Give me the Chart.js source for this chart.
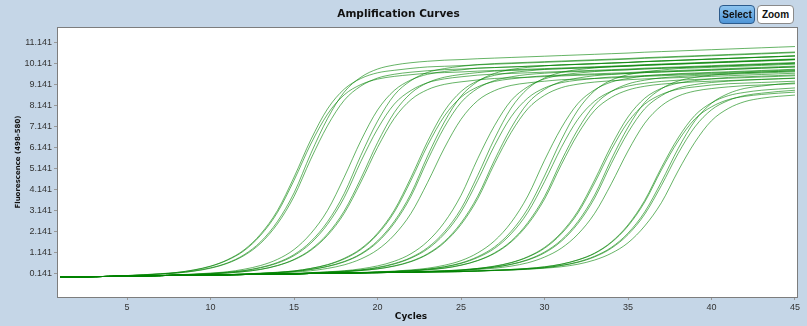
<!DOCTYPE html>
<html>
<head>
<meta charset="utf-8">
<script src="https://cdn.jsdelivr.net/npm/chart.js@4.4.1/dist/chart.umd.min.js"></script>
<style>
  html, body { margin: 0; padding: 0; background: #c5d6e7; }
  #wrap { position: relative; width: 807px; height: 326px; overflow: hidden; }
  #chart { position: absolute; left: 0; top: 0; }
  .btn {
    position: absolute; top: 5px; height: 19px;
    font: bold 10px "Liberation Sans", Arial, sans-serif; line-height: 17px; color: #111;
    text-align: center; border-radius: 4px; box-sizing: border-box;
  }
  #btnSelect { left: 719px; width: 36px; background: linear-gradient(#8cc4f0, #4f95d6); border: 1px solid #2c5b8c; }
  #btnZoom { left: 757px; width: 37px; background: #fff; border: 1px solid #8a8a8a; }
</style>
</head>
<body>
<div id="wrap">
  <canvas id="chart" width="807" height="326"></canvas>
  <div class="btn" id="btnSelect">Select</div>
  <div class="btn" id="btnZoom">Zoom</div>
</div>
<script>
// cycle numbers on the x axis
const cycles = [1,2,3,4,5,6,7,8,9,10,11,12,13,14,15,16,17,18,19,20,21,22,23,24,25,26,27,28,29,30,31,32,33,34,35,36,37,38,39,40,41,42,43,44,45];

const xTicks = [5, 10, 15, 20, 25, 30, 35, 40, 45];
const yTicks = [0.141, 1.141, 2.141, 3.141, 4.141, 5.141, 6.141, 7.141, 8.141, 9.141, 10.141, 11.141];
const yTickLabels = ["0.141", "1.141", "2.141", "3.141", "4.141", "5.141", "6.141", "7.141", "8.141", "9.141", "10.141", "11.141"];

// fluorescence per well, one value per cycle
const s1a = [-0.02,-0.01,0,0.01,0.05,0.09,0.14,0.20,0.32,0.50,0.80,1.27,2.03,3.14,4.74,6.51,7.98,8.92,9.43,9.70,9.82,9.91,9.98,10.01,10.04,10.08,10.11,10.14,10.17,10.20,10.23,10.26,10.29,10.32,10.35,10.39,10.42,10.45,10.48,10.51,10.54,10.57,10.60,10.63,10.66];
const s1b = [-0.02,-0.01,0,0.01,0.05,0.09,0.13,0.20,0.31,0.49,0.78,1.23,1.97,3.05,4.59,6.31,7.73,8.65,9.14,9.40,9.53,9.61,9.68,9.71,9.74,9.78,9.81,9.84,9.87,9.90,9.93,9.96,9.99,10.02,10.05,10.09,10.12,10.15,10.18,10.21,10.24,10.27,10.30,10.33,10.36];
const s1c = [-0.02,-0.01,0,0.01,0.04,0.08,0.12,0.18,0.27,0.42,0.65,1.04,1.66,2.62,3.99,5.85,7.52,8.78,9.49,9.88,10.07,10.18,10.25,10.30,10.33,10.37,10.40,10.43,10.46,10.49,10.52,10.55,10.58,10.61,10.64,10.68,10.71,10.74,10.77,10.80,10.83,10.86,10.89,10.92,10.95];
const s1d = [-0.02,-0.01,0,0.01,0.04,0.08,0.12,0.17,0.26,0.40,0.63,1.00,1.59,2.51,3.82,5.59,7.18,8.39,9.07,9.45,9.63,9.73,9.80,9.85,9.88,9.92,9.95,9.98,10.01,10.04,10.07,10.10,10.13,10.16,10.19,10.23,10.26,10.29,10.32,10.35,10.38,10.41,10.44,10.47,10.50];

const s2a = [-0.02,-0.01,0,0.01,0.02,0.04,0.05,0.09,0.12,0.17,0.23,0.35,0.53,0.82,1.29,2.05,3.15,4.73,6.47,7.93,8.86,9.36,9.63,9.76,9.84,9.92,9.95,9.98,10.01,10.04,10.07,10.10,10.13,10.16,10.19,10.23,10.26,10.29,10.32,10.35,10.38,10.41,10.44,10.47,10.50];
const s2b = [-0.02,-0.01,0,0.01,0.02,0.04,0.05,0.08,0.11,0.14,0.20,0.28,0.42,0.64,1.00,1.59,2.49,3.76,5.48,7.03,8.21,8.86,9.23,9.41,9.51,9.59,9.64,9.67,9.70,9.73,9.76,9.79,9.82,9.85,9.88,9.92,9.95,9.98,10.01,10.04,10.07,10.10,10.13,10.16,10.19];
const s2c = [-0.02,-0.01,0,0.01,0.02,0.04,0.05,0.08,0.11,0.15,0.21,0.29,0.44,0.67,1.05,1.67,2.61,3.95,5.77,7.40,8.64,9.33,9.72,9.90,10.01,10.09,10.14,10.17,10.20,10.23,10.26,10.29,10.32,10.35,10.38,10.42,10.45,10.48,10.51,10.54,10.57,10.60,10.63,10.66,10.69];
const s2d = [-0.02,-0.01,0,0.01,0.02,0.04,0.05,0.06,0.10,0.13,0.17,0.24,0.35,0.53,0.82,1.29,2.03,3.12,4.67,6.38,7.81,8.73,9.23,9.49,9.62,9.71,9.78,9.81,9.84,9.87,9.90,9.93,9.96,9.99,10.02,10.06,10.09,10.12,10.15,10.18,10.21,10.24,10.27,10.30,10.33];
const s2e = [-0.02,-0.01,0,0.01,0.02,0.04,0.05,0.06,0.10,0.13,0.17,0.24,0.34,0.52,0.80,1.25,1.96,3.01,4.50,6.15,7.53,8.42,8.90,9.15,9.27,9.36,9.43,9.46,9.49,9.52,9.55,9.58,9.61,9.64,9.67,9.71,9.74,9.77,9.80,9.83,9.86,9.89,9.92,9.95,9.98];

const s3a = [-0.02,-0.01,0,0.01,0.02,0.04,0.05,0.06,0.07,0.08,0.09,0.13,0.16,0.21,0.27,0.39,0.57,0.87,1.33,2.07,3.16,4.72,6.44,7.88,8.81,9.32,9.58,9.71,9.79,9.86,9.89,9.92,9.95,9.98,10.01,10.05,10.08,10.11,10.14,10.17,10.20,10.23,10.26,10.29,10.32];
const s3b = [-0.02,-0.01,0,0.01,0.02,0.04,0.05,0.06,0.07,0.08,0.09,0.13,0.16,0.20,0.27,0.39,0.56,0.84,1.29,2.01,3.07,4.58,6.25,7.64,8.54,9.03,9.29,9.41,9.49,9.56,9.59,9.62,9.65,9.68,9.71,9.75,9.78,9.81,9.84,9.87,9.90,9.93,9.96,9.99,10.02];
const s3c = [-0.02,-0.01,0,0.01,0.02,0.04,0.05,0.06,0.07,0.08,0.09,0.12,0.15,0.19,0.25,0.34,0.49,0.72,1.09,1.70,2.63,3.95,5.75,7.36,8.59,9.29,9.67,9.86,9.96,10.03,10.08,10.11,10.14,10.17,10.20,10.24,10.27,10.30,10.33,10.36,10.39,10.42,10.45,10.48,10.51];
const s3d = [-0.02,-0.01,0,0.01,0.02,0.04,0.05,0.06,0.07,0.08,0.09,0.12,0.15,0.19,0.24,0.34,0.48,0.70,1.06,1.64,2.54,3.82,5.55,7.11,8.29,8.96,9.33,9.51,9.62,9.68,9.73,9.76,9.79,9.82,9.85,9.89,9.92,9.95,9.98,10.01,10.04,10.07,10.10,10.13,10.16];
const s3e = [-0.02,-0.01,0,0.01,0.02,0.04,0.05,0.06,0.07,0.08,0.09,0.10,0.14,0.17,0.21,0.28,0.39,0.56,0.84,1.28,1.98,3.01,4.49,6.12,7.49,8.38,8.85,9.10,9.22,9.30,9.37,9.40,9.43,9.46,9.49,9.53,9.56,9.59,9.62,9.65,9.68,9.71,9.74,9.77,9.80];

const s4a = [-0.02,-0.01,0,0.01,0.02,0.04,0.05,0.06,0.07,0.08,0.09,0.10,0.11,0.12,0.15,0.19,0.23,0.28,0.37,0.51,0.73,1.09,1.68,2.58,3.87,5.62,7.18,8.38,9.04,9.41,9.59,9.69,9.76,9.81,9.84,9.88,9.91,9.94,9.97,10.00,10.03,10.06,10.09,10.12,10.15];
const s4b = [-0.02,-0.01,0,0.01,0.02,0.04,0.05,0.06,0.07,0.08,0.09,0.10,0.11,0.12,0.13,0.18,0.21,0.25,0.32,0.42,0.60,0.88,1.32,2.03,3.08,4.58,6.23,7.61,8.50,8.98,9.23,9.35,9.43,9.50,9.53,9.57,9.60,9.63,9.66,9.69,9.72,9.75,9.78,9.81,9.84];
const s4c = [-0.02,-0.01,0,0.01,0.02,0.04,0.05,0.06,0.07,0.08,0.09,0.10,0.11,0.12,0.13,0.18,0.21,0.26,0.32,0.44,0.62,0.91,1.38,2.13,3.23,4.82,6.56,8.02,8.95,9.45,9.72,9.85,9.93,10.00,10.03,10.07,10.10,10.13,10.16,10.19,10.22,10.25,10.28,10.31,10.34];
const s4d = [-0.02,-0.01,0,0.01,0.02,0.04,0.05,0.06,0.07,0.08,0.09,0.10,0.11,0.12,0.13,0.17,0.20,0.23,0.29,0.37,0.51,0.73,1.09,1.67,2.56,3.83,5.54,7.08,8.26,8.91,9.28,9.45,9.56,9.62,9.67,9.71,9.74,9.77,9.80,9.83,9.86,9.89,9.92,9.95,9.98];
const s4e = [-0.02,-0.01,0,0.01,0.02,0.04,0.05,0.06,0.07,0.08,0.09,0.10,0.11,0.12,0.13,0.17,0.20,0.23,0.29,0.37,0.50,0.71,1.06,1.62,2.48,3.71,5.37,6.86,7.99,8.63,8.99,9.16,9.26,9.32,9.37,9.41,9.44,9.47,9.50,9.53,9.56,9.59,9.62,9.65,9.68];

const s5a = [-0.02,-0.01,0,0.01,0.02,0.04,0.05,0.06,0.07,0.08,0.09,0.10,0.11,0.12,0.13,0.15,0.16,0.17,0.20,0.23,0.26,0.32,0.40,0.54,0.76,1.13,1.70,2.58,3.84,5.54,7.07,8.24,8.89,9.26,9.43,9.55,9.61,9.66,9.69,9.72,9.75,9.78,9.81,9.84,9.87];
const s5b = [-0.02,-0.01,0,0.01,0.02,0.04,0.05,0.06,0.07,0.08,0.09,0.10,0.11,0.12,0.13,0.15,0.16,0.17,0.18,0.22,0.24,0.29,0.35,0.46,0.63,0.91,1.34,2.04,3.06,4.52,6.14,7.49,8.35,8.82,9.07,9.20,9.29,9.35,9.38,9.41,9.44,9.47,9.50,9.53,9.56];
const s5c = [-0.02,-0.01,0,0.01,0.02,0.04,0.05,0.06,0.07,0.08,0.09,0.10,0.11,0.12,0.13,0.15,0.16,0.17,0.18,0.22,0.25,0.29,0.36,0.47,0.65,0.95,1.41,2.15,3.24,4.79,6.50,7.93,8.85,9.35,9.61,9.75,9.83,9.90,9.93,9.96,9.99,10.02,10.05,10.08,10.11];
const s5d = [-0.02,-0.01,0,0.01,0.02,0.04,0.05,0.06,0.07,0.08,0.09,0.10,0.11,0.12,0.13,0.15,0.16,0.17,0.18,0.21,0.24,0.27,0.33,0.41,0.55,0.77,1.13,1.69,2.57,3.81,5.50,7.01,8.17,8.81,9.17,9.35,9.46,9.52,9.57,9.60,9.63,9.66,9.69,9.72,9.75];
const s5e = [-0.02,-0.01,0,0.01,0.02,0.04,0.05,0.06,0.07,0.08,0.09,0.10,0.11,0.12,0.13,0.15,0.16,0.17,0.18,0.21,0.24,0.27,0.32,0.40,0.54,0.76,1.10,1.65,2.49,3.69,5.32,6.79,7.91,8.53,8.88,9.06,9.16,9.22,9.27,9.30,9.33,9.36,9.39,9.42,9.45];

const s6a = [-0.02,-0.01,0,0.01,0.02,0.04,0.05,0.06,0.07,0.08,0.09,0.10,0.11,0.12,0.13,0.15,0.16,0.17,0.18,0.19,0.20,0.21,0.25,0.28,0.32,0.39,0.50,0.67,0.95,1.39,2.09,3.12,4.60,6.23,7.60,8.49,8.96,9.21,9.33,9.41,9.48,9.51,9.54,9.57,9.60];
const s6b = [-0.02,-0.01,0,0.01,0.02,0.04,0.05,0.06,0.07,0.08,0.09,0.10,0.11,0.12,0.13,0.15,0.16,0.17,0.18,0.19,0.20,0.21,0.25,0.27,0.32,0.39,0.49,0.66,0.93,1.35,2.03,3.03,4.46,6.04,7.36,8.21,8.67,8.92,9.03,9.12,9.18,9.21,9.24,9.27,9.30];
const s6c = [-0.02,-0.01,0,0.01,0.02,0.04,0.05,0.06,0.07,0.08,0.09,0.10,0.11,0.12,0.13,0.15,0.16,0.17,0.18,0.19,0.20,0.21,0.24,0.27,0.30,0.37,0.45,0.59,0.81,1.17,1.74,2.62,3.88,5.58,7.11,8.29,8.94,9.31,9.48,9.59,9.65,9.70,9.73,9.76,9.79];
const s6d = [-0.02,-0.01,0,0.01,0.02,0.04,0.05,0.06,0.07,0.08,0.09,0.10,0.11,0.12,0.13,0.15,0.16,0.17,0.18,0.19,0.20,0.21,0.24,0.27,0.30,0.37,0.45,0.58,0.79,1.13,1.68,2.53,3.74,5.38,6.86,7.99,8.61,8.97,9.14,9.24,9.30,9.35,9.38,9.41,9.44];
const s6e = [-0.02,-0.01,0,0.01,0.02,0.04,0.05,0.06,0.07,0.08,0.09,0.10,0.11,0.12,0.13,0.15,0.16,0.17,0.18,0.19,0.20,0.21,0.22,0.26,0.28,0.34,0.40,0.50,0.66,0.93,1.35,2.02,3.01,4.42,5.98,7.30,8.13,8.59,8.83,8.95,9.03,9.09,9.12,9.15,9.18];

const s7a = [-0.02,-0.01,0,0.01,0.02,0.04,0.05,0.06,0.07,0.08,0.09,0.10,0.11,0.12,0.13,0.15,0.16,0.17,0.18,0.19,0.20,0.21,0.22,0.23,0.24,0.28,0.30,0.34,0.39,0.47,0.59,0.80,1.12,1.65,2.46,3.63,5.19,6.60,7.67,8.27,8.61,8.77,8.87,8.93,8.98];
const s7b = [-0.02,-0.01,0,0.01,0.02,0.04,0.05,0.06,0.07,0.08,0.09,0.10,0.11,0.12,0.13,0.15,0.16,0.17,0.18,0.19,0.20,0.21,0.22,0.23,0.24,0.28,0.30,0.34,0.39,0.46,0.59,0.79,1.10,1.62,2.41,3.55,5.08,6.45,7.50,8.08,8.42,8.58,8.67,8.73,8.78];
const s7c = [-0.02,-0.01,0,0.01,0.02,0.04,0.05,0.06,0.07,0.08,0.09,0.10,0.11,0.12,0.13,0.15,0.16,0.17,0.18,0.19,0.20,0.21,0.22,0.23,0.24,0.26,0.30,0.32,0.37,0.43,0.53,0.70,0.97,1.39,2.07,3.08,4.51,6.09,7.41,8.25,8.71,8.96,9.07,9.16,9.22];
const s7d = [-0.02,-0.01,0,0.01,0.02,0.04,0.05,0.06,0.07,0.08,0.09,0.10,0.11,0.12,0.13,0.15,0.16,0.17,0.18,0.19,0.20,0.21,0.22,0.23,0.24,0.26,0.30,0.32,0.36,0.42,0.53,0.68,0.94,1.35,2.00,2.97,4.34,5.86,7.12,7.94,8.38,8.62,8.73,8.81,8.87];
const s7e = [-0.02,-0.01,0,0.01,0.02,0.04,0.05,0.06,0.07,0.08,0.09,0.10,0.11,0.12,0.13,0.15,0.16,0.17,0.18,0.19,0.20,0.21,0.22,0.23,0.24,0.26,0.29,0.31,0.35,0.40,0.47,0.59,0.79,1.11,1.61,2.41,3.52,5.03,6.39,7.42,8.00,8.33,8.49,8.58,8.64];

const wells = [
  s1a, s1b, s1c, s1d,
  s2a, s2b, s2c, s2d, s2e,
  s3a, s3b, s3c, s3d, s3e,
  s4a, s4b, s4c, s4d, s4e,
  s5a, s5b, s5c, s5d, s5e,
  s6a, s6b, s6c, s6d, s6e,
  s7a, s7b, s7c, s7d, s7e
];

Chart.defaults.font.family = '"Liberation Sans", Arial, sans-serif';
Chart.defaults.font.size = 9;
Chart.defaults.color = '#222';

const boldFont = '"DejaVu Sans", Verdana, sans-serif';

// white plot area with a grey frame, plus the x axis title (sits a bit left of centre)
const plotFrame = {
  id: 'plotFrame',
  beforeDraw(chart) {
    const { ctx, chartArea: a } = chart;
    ctx.save();
    ctx.fillStyle = '#ffffff';
    ctx.fillRect(a.left, a.top, a.right - a.left, a.bottom - a.top);
    ctx.restore();
  },
  afterDraw(chart) {
    const { ctx, chartArea: a } = chart;
    ctx.save();
    ctx.strokeStyle = '#7d7d7d';
    ctx.lineWidth = 1;
    ctx.strokeRect(Math.round(a.left) + 0.5, Math.round(a.top) + 0.5, Math.round(a.right - a.left), Math.round(a.bottom - a.top));
    ctx.fillStyle = '#111';
    ctx.font = 'bold 9px ' + boldFont;
    ctx.textAlign = 'center';
    ctx.textBaseline = 'middle';
    ctx.fillText('Cycles', 411, 317);
    ctx.restore();
  }
};

new Chart(document.getElementById('chart'), {
  type: 'line',
  data: {
    datasets: wells.map(w => ({
      data: w.map((v, i) => ({ x: cycles[i], y: v })),
      borderColor: 'rgba(0, 130, 0, 0.6)',
      borderWidth: 1,
      pointRadius: 0,
      fill: false,
      cubicInterpolationMode: 'monotone'
    }))
  },
  options: {
    responsive: false,
    animation: false,
    events: [],
    layout: { padding: { left: 0, right: 10, top: 0, bottom: 0 } },
    plugins: {
      legend: { display: false },
      tooltip: { enabled: false },
      title: {
        display: true,
        text: 'Amplification Curves',
        color: '#111',
        font: { family: boldFont, size: 10.5, weight: 'bold' },
        padding: { top: 8, bottom: 6.4 }
      }
    },
    scales: {
      x: {
        type: 'linear',
        min: 0.8,
        max: 45.12,
        afterBuildTicks: s => { s.ticks = xTicks.map(v => ({ value: v })); },
        afterFit: s => { s.height = 29; },
        ticks: { padding: 2, color: '#333', callback: v => String(v) },
        grid: { drawOnChartArea: false, drawTicks: true, tickLength: 3, color: '#999' },
        border: { display: true, color: '#7d7d7d' }
      },
      y: {
        type: 'linear',
        min: -0.97,
        max: 11.88,
        afterBuildTicks: s => { s.ticks = yTicks.map(v => ({ value: v })); },
        afterFit: s => { s.width = 57; },
        ticks: { padding: 2, color: '#333', callback: (v, i) => yTickLabels[i] },
        grid: { drawOnChartArea: false, drawTicks: true, tickLength: 3, color: '#999' },
        border: { display: true, color: '#7d7d7d' },
        title: {
          display: true,
          text: 'Fluorescence (498-580)',
          color: '#111',
          font: { family: boldFont, size: 7, weight: 'bold' },
          padding: { top: 14, bottom: 0 }
        }
      }
    }
  },
  plugins: [plotFrame]
});
</script>
</body>
</html>
